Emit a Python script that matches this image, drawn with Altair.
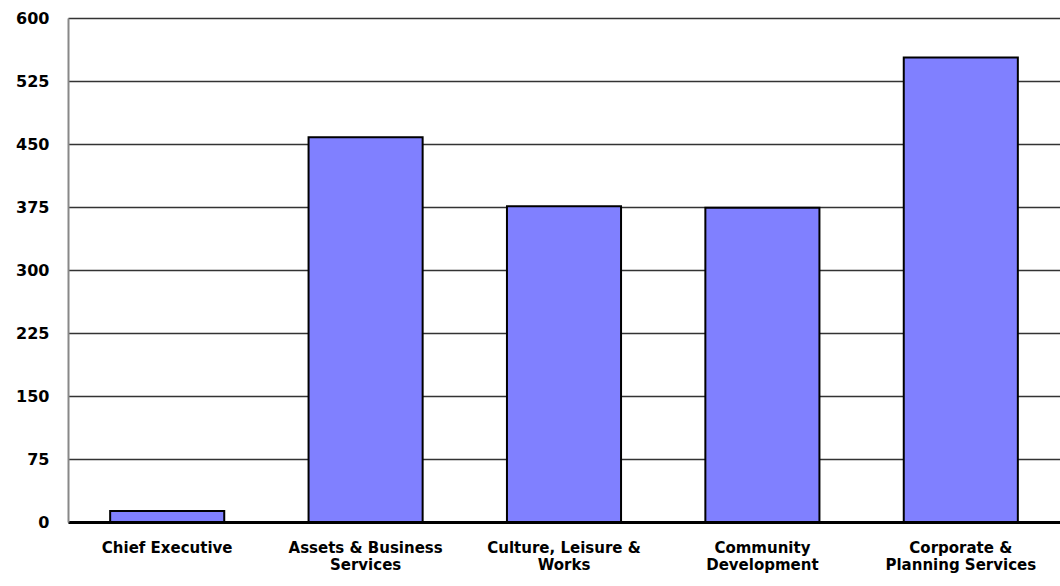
import altair as alt
import pandas as pd

categories = ["Chief Executive", "Assets & Business|Services", "Culture, Leisure &|Works",
              "Community|Development", "Corporate &|Planning Services"]
values = [13, 458, 376, 374, 553]
y_ticks = [0, 75, 150, 225, 300, 375, 450, 525, 600]

df = pd.DataFrame({"cat": categories, "val": values})

FONT = "DejaVu Sans"

chart = alt.Chart(df).mark_bar(
    color="#8080FF", stroke="#000000", strokeWidth=2
).encode(
    x=alt.X("cat:N", sort=None, title=None,
            scale=alt.Scale(paddingInner=0.425, paddingOuter=0.2125),
            axis=alt.Axis(labelAngle=0, labelExpr="split(datum.label, '|')",
                          labelFont=FONT, labelFontSize=15, labelFontWeight="bold",
                          labelColor="#000000", labelPadding=18, labelLineHeight=17,
                          ticks=False, domainColor="#000000", domainWidth=3,
                          grid=False)),
    y=alt.Y("val:Q", title=None,
            scale=alt.Scale(domain=[0, 600], nice=False),
            axis=alt.Axis(values=y_ticks, labelFont=FONT, labelFontSize=16,
                          labelFontWeight="bold", labelColor="#000000",
                          labelPadding=19, ticks=False, domainColor="#888888",
                          domainWidth=2, grid=True, gridColor="#333333",
                          gridWidth=1.5)),
).properties(
    width=992, height=504,
    autosize=alt.AutoSizeParams(type="none"),
    padding={"left": 68, "top": 18, "right": 0, "bottom": 64},
).configure_view(stroke=None).configure(background="#ffffff")

chart.save("out.html", embed_options={"renderer": "svg", "actions": False})
